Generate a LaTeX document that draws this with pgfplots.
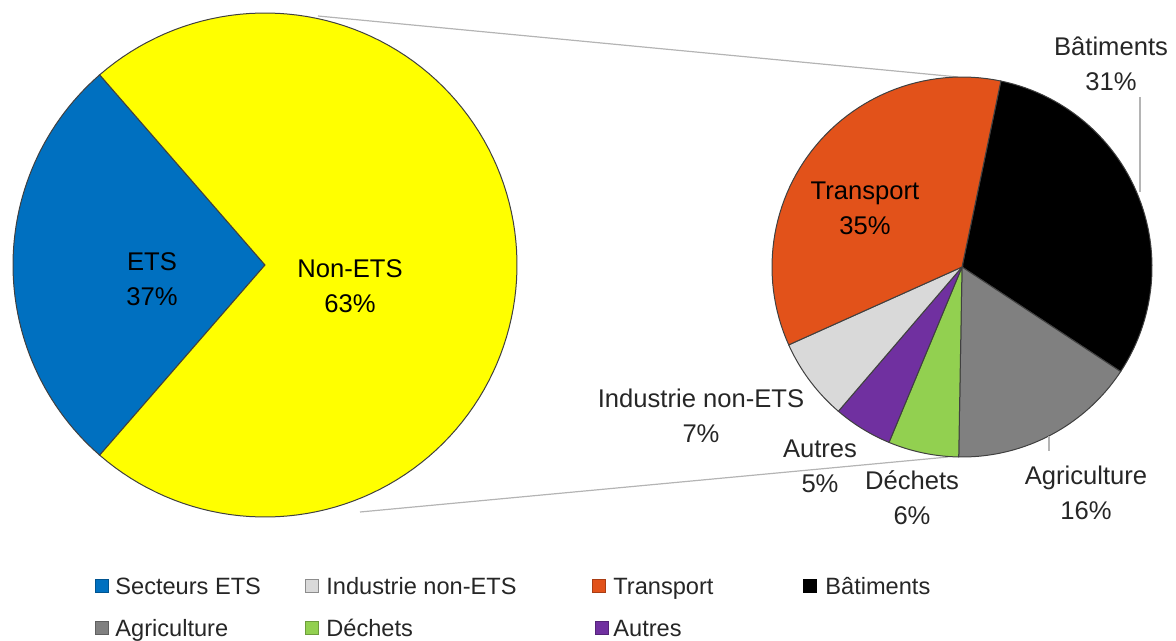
\documentclass[border=0pt]{standalone}
\usepackage{pgfplots}
\pgfplotsset{compat=1.18}
\usepackage{fontspec}
\setmainfont{Liberation Sans}
\definecolor{etsblue}{HTML}{0070C0}
\definecolor{nonets}{HTML}{FFFF00}
\definecolor{transp}{HTML}{E2521A}
\definecolor{batim}{HTML}{000000}
\definecolor{agri}{HTML}{808080}
\definecolor{dechets}{HTML}{92D050}
\definecolor{autres}{HTML}{7030A0}
\definecolor{indus}{HTML}{D9D9D9}
\definecolor{txt}{HTML}{262626}
\definecolor{edge}{HTML}{404040}
\definecolor{conn}{HTML}{B4B4B4}
\newcommand{\lab}{\fontsize{12.8}{17.5}\selectfont}
\newcommand{\leg}{\fontsize{11.8}{14}\selectfont}
\begin{document}
\begin{tikzpicture}
\begin{axis}[scale only axis, width=588pt, height=320pt,
  xmin=0, xmax=1176, ymin=0, ymax=640, y dir=reverse,
  hide axis, clip=false]
\path (0,0) rectangle (1176,640);
% connector lines
\addplot[conn, line width=0.6pt] coordinates {(318,16) (958,77)};
\addplot[conn, line width=0.6pt] coordinates {(360,512) (948,457)};
% left pie: ETS 37%, Non-ETS 63% (drawn as in the reference)
\addplot[fill=etsblue, draw=edge, line width=0.5pt, domain=131:229, samples=60, variable=\t]
  ({265+252*cos(\t)},{265-252*sin(\t)}) -- (265,265) -- cycle;
\addplot[fill=nonets, draw=edge, line width=0.5pt, domain=-131:131, samples=120, variable=\t]
  ({265+252*cos(\t)},{265-252*sin(\t)}) -- (265,265) -- cycle;
% right pie: Transport 35, Batiments 31, Agriculture 16, Dechets 6, Autres 5, Industrie 7
\addplot[fill=batim, draw=edge, line width=0.5pt, domain=-33.4:78.2, samples=60, variable=\t]
  ({962+190*cos(\t)},{267-190*sin(\t)}) -- (962,267) -- cycle;
\addplot[fill=agri, draw=edge, line width=0.5pt, domain=-91.0:-33.4, samples=40, variable=\t]
  ({962+190*cos(\t)},{267-190*sin(\t)}) -- (962,267) -- cycle;
\addplot[fill=dechets, draw=edge, line width=0.5pt, domain=-112.6:-91.0, samples=20, variable=\t]
  ({962+190*cos(\t)},{267-190*sin(\t)}) -- (962,267) -- cycle;
\addplot[fill=autres, draw=edge, line width=0.5pt, domain=-130.6:-112.6, samples=20, variable=\t]
  ({962+190*cos(\t)},{267-190*sin(\t)}) -- (962,267) -- cycle;
\addplot[fill=indus, draw=edge, line width=0.5pt, domain=-155.8:-130.6, samples=20, variable=\t]
  ({962+190*cos(\t)},{267-190*sin(\t)}) -- (962,267) -- cycle;
\addplot[fill=transp, draw=edge, line width=0.5pt, domain=78.2:204.2, samples=60, variable=\t]
  ({962+190*cos(\t)},{267-190*sin(\t)}) -- (962,267) -- cycle;
% leader lines
\addplot[conn, line width=0.6pt] coordinates {(1140,97) (1140,192)};
\addplot[conn, line width=0.6pt] coordinates {(1049,436) (1049,451)};
% data labels
\node[align=center, font=\lab, text=black] at (152,279) {ETS\\37\%};
\node[align=center, font=\lab, text=black] at (350,286) {Non-ETS\\63\%};
\node[align=center, font=\lab, text=black] at (865,208) {Transport\\35\%};
\node[align=center, font=\lab, text=txt] at (1111,64) {Bâtiments\\31\%};
\node[align=center, font=\lab, text=txt] at (1086,493) {Agriculture\\16\%};
\node[align=center, font=\lab, text=txt] at (912,498) {Déchets\\6\%};
\node[align=center, font=\lab, text=txt] at (820,466) {Autres\\5\%};
\node[align=center, font=\lab, text=txt] at (701,416) {Industrie non-ETS\\7\%};
% legend
\filldraw[fill=etsblue, draw=etsblue!75!black, line width=0.4pt] (95,579) rectangle (108,592);
\node[anchor=base west, font=\leg, text=txt, inner sep=0pt] at (115,594) {Secteurs ETS};
\filldraw[fill=indus, draw=black!45, line width=0.4pt] (305,579) rectangle (318,592);
\node[anchor=base west, font=\leg, text=txt, inner sep=0pt] at (326,594) {Industrie non-ETS};
\filldraw[fill=transp, draw=transp!75!black, line width=0.4pt] (592,579) rectangle (605,592);
\node[anchor=base west, font=\leg, text=txt, inner sep=0pt] at (613,594) {Transport};
\filldraw[fill=batim, draw=black, line width=0.4pt] (803,579) rectangle (816,592);
\node[anchor=base west, font=\leg, text=txt, inner sep=0pt] at (825,594) {Bâtiments};
\filldraw[fill=agri, draw=agri!75!black, line width=0.4pt] (95,621) rectangle (108,634);
\node[anchor=base west, font=\leg, text=txt, inner sep=0pt] at (115,636) {Agriculture};
\filldraw[fill=dechets, draw=dechets!75!black, line width=0.4pt] (305,621) rectangle (318,634);
\node[anchor=base west, font=\leg, text=txt, inner sep=0pt] at (326,636) {Déchets};
\filldraw[fill=autres, draw=autres!75!black, line width=0.4pt] (595,621) rectangle (608,634);
\node[anchor=base west, font=\leg, text=txt, inner sep=0pt] at (613,636) {Autres};
\end{axis}
\end{tikzpicture}
\end{document}
